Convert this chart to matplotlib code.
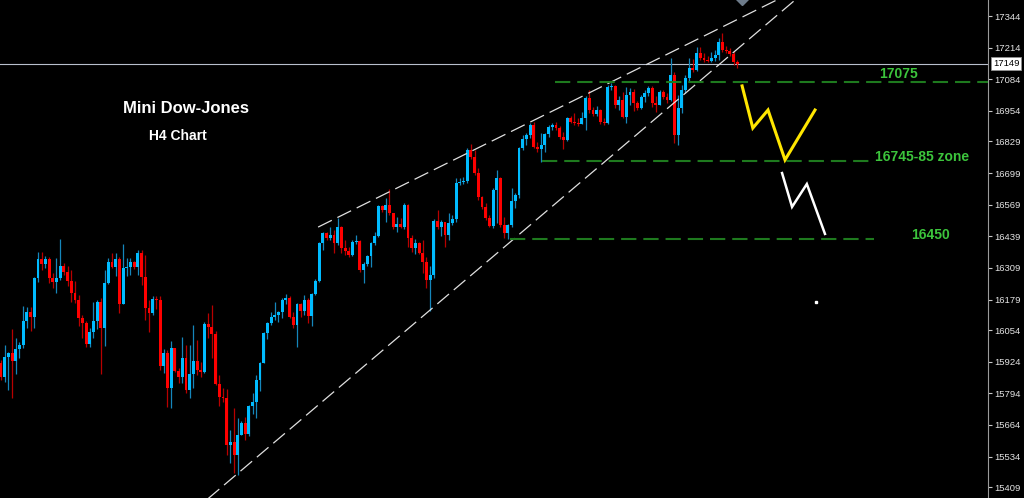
"""
Mini Dow-Jones H4 chart (MT4 style) with rising wedge and projected paths.
"""

import matplotlib
matplotlib.use("Agg")
import matplotlib.pyplot as plt
import numpy as np

plt.rcParams["lines.scale_dashes"] = False
plt.rcParams["font.family"] = ["Liberation Sans", "DejaVu Sans"]

# ── Candle data (H4 bars) ─────────────────────────────────────────────────
first_open = 15919
closes = [
    15861, 15943, 15960, 15927, 15976, 15993, 16091, 16128, 16108, 16268,
    16346, 16325, 16346, 16268, 16252, 16268, 16317, 16293, 16256, 16206,
    16178, 16104, 16083, 15997, 16046, 16091, 16169, 16063, 16247, 16334,
    16313, 16346, 16161, 16309, 16313, 16334, 16313, 16371, 16272, 16145,
    16124, 16182, 16178, 15906, 15960, 15816, 15980, 15886, 15861, 15939,
    15808, 15874, 15927, 15890, 15882, 16079, 16067, 16038, 15833, 15779,
    15775, 15582, 15594, 15541, 15623, 15672, 15627, 15742, 15759, 15849,
    15919, 16042, 16083, 16108, 16116, 16128, 16178, 16186, 16108, 16075,
    16161, 16132, 16178, 16112, 16202, 16256, 16412, 16453, 16432, 16445,
    16412, 16477, 16391, 16379, 16362, 16416, 16420, 16301, 16325, 16358,
    16412, 16441, 16564, 16547, 16568, 16535, 16477, 16490, 16477, 16568,
    16432, 16391, 16412, 16371, 16334, 16260, 16280, 16502, 16477, 16498,
    16445, 16494, 16510, 16658, 16662, 16666, 16794, 16765, 16699, 16601,
    16560, 16514, 16482, 16629, 16679, 16486, 16453, 16486, 16584, 16609,
    16802, 16839, 16855, 16896, 16806, 16798, 16814, 16860, 16888, 16896,
    16884, 16847, 16835, 16925, 16909, 16905, 16901, 16925, 17007, 16958,
    16942, 16958, 16909, 16905, 17053, 17057, 16979, 16999, 16929, 17020,
    17032, 16987, 16966, 17012, 17028, 17048, 16987, 16979, 17032, 17012,
    16999, 17102, 16855, 16966, 17040, 17090, 17131, 17122, 17192, 17172,
    17164, 17160, 17172, 17184, 17237, 17205, 17200, 17188, 17155, 17149,
]
highs = [
    15931, 15993, 15964, 16058, 16021, 16005, 16153, 16149, 16149, 16272,
    16375, 16375, 16358, 16354, 16288, 16350, 16428, 16330, 16317, 16301,
    16256, 16198, 16116, 16091, 16063, 16169, 16178, 16186, 16301, 16350,
    16371, 16371, 16354, 16408, 16350, 16350, 16338, 16383, 16383, 16362,
    16178, 16194, 16194, 16194, 15976, 15972, 16009, 15976, 15898, 16026,
    15993, 15993, 16075, 16013, 15923, 16087, 16124, 16157, 16050, 15870,
    15816, 15812, 15644, 15734, 15693, 15681, 15697, 15746, 15796, 15870,
    15923, 16046, 16087, 16128, 16169, 16132, 16186, 16202, 16194, 16128,
    16165, 16165, 16198, 16186, 16206, 16264, 16416, 16457, 16457, 16477,
    16465, 16514, 16482, 16424, 16395, 16424, 16445, 16424, 16334, 16362,
    16416, 16457, 16568, 16568, 16597, 16634, 16535, 16519, 16514, 16576,
    16572, 16445, 16428, 16416, 16424, 16354, 16317, 16510, 16547, 16506,
    16498, 16535, 16527, 16679, 16679, 16683, 16802, 16818, 16794, 16720,
    16605, 16576, 16527, 16638, 16712, 16683, 16519, 16490, 16638, 16617,
    16806, 16855, 16864, 16905, 16909, 16827, 16864, 16864, 16896, 16905,
    16909, 16892, 16868, 16929, 16933, 16946, 16925, 16950, 17016, 17040,
    16970, 16975, 16962, 16925, 17061, 17069, 17061, 17016, 17032, 17053,
    17048, 17044, 16995, 17020, 17040, 17057, 17057, 17016, 17040, 17040,
    17028, 17172, 17114, 17020, 17061, 17102, 17172, 17168, 17217, 17217,
    17192, 17180, 17196, 17205, 17254, 17274, 17221, 17213, 17200, 17164,
]
lows = [
    15849, 15841, 15808, 15775, 15874, 15939, 15980, 16063, 16050, 16063,
    16252, 16301, 16309, 16247, 16227, 16206, 16260, 16280, 16235, 16169,
    16165, 16071, 16021, 15985, 15985, 16021, 16058, 15874, 15989, 16243,
    16309, 16276, 16124, 16161, 16276, 16280, 16305, 16280, 16239, 16095,
    16046, 16116, 16141, 15890, 15878, 15738, 15734, 15882, 15837, 15837,
    15796, 15775, 15816, 15870, 15861, 15878, 16021, 15939, 15828, 15742,
    15759, 15541, 15508, 15467, 15459, 15627, 15603, 15619, 15709, 15693,
    15804, 15952, 16017, 16075, 16095, 16087, 16104, 16161, 16104, 16063,
    15985, 16108, 16116, 16083, 16071, 16198, 16252, 16383, 16424, 16424,
    16371, 16404, 16371, 16362, 16354, 16358, 16408, 16293, 16247, 16317,
    16313, 16404, 16436, 16539, 16498, 16527, 16469, 16457, 16473, 16469,
    16395, 16375, 16367, 16367, 16288, 16227, 16132, 16268, 16469, 16441,
    16395, 16424, 16486, 16498, 16650, 16654, 16658, 16757, 16691, 16588,
    16551, 16506, 16477, 16473, 16494, 16477, 16432, 16428, 16477, 16556,
    16597, 16794, 16814, 16843, 16802, 16786, 16745, 16786, 16847, 16876,
    16876, 16839, 16798, 16831, 16905, 16896, 16892, 16901, 16876, 16946,
    16933, 16933, 16901, 16896, 16901, 17040, 16966, 16958, 16925, 16905,
    16979, 16954, 16958, 16962, 16991, 17016, 16970, 16950, 16999, 17003,
    16987, 16995, 16823, 16814, 16946, 17028, 17077, 17114, 17118, 17164,
    17155, 17155, 17155, 17160, 17164, 17196, 17192, 17180, 17143, 17131,
]
last_price = 17149

# right-hand price scale
tick_vals = [17344, 17214, 17084, 16954, 16829, 16699, 16569, 16439,
             16309, 16179, 16054, 15924, 15794, 15664, 15534, 15409]

# wedge trendlines: (bar index, price) anchors
upper_wedge_x = [85.7, 215.1]
upper_wedge_p = [16477, 17451]
lower_wedge_x = [54.0, 217.8]
lower_wedge_p = [15336, 17451]

# support levels
level_prices = [17073, 16747, 16428]
level_start = [149.7, 146.2, 137.6]
level_end = [266.8, 234.9, 236.0]
level_labels = ["17075", "16745-85 zone", "16450"]
label_pos = [(0.909, 0.851), (0.933, 0.685), (0.942, 0.528)]

# projected paths
yellow_x = [200.3, 203.2, 207.3, 211.9, 220.0]
yellow_p = [17057, 16884, 16958, 16753, 16958]
white_x = [211.1, 213.8, 217.8, 222.7]
white_p = [16699, 16560, 16654, 16449]

BLUE = "#00BBFF"
RED = "#FF0000"
BLUE_WICK = "#1586bb"
RED_WICK = "#b80000"

fig = plt.figure(figsize=(10.24, 4.98), dpi=100, facecolor="black")
ax = fig.add_axes([0, 0, 988 / 1024, 1])
ax.set_facecolor("black")

idx = np.arange(len(closes))
c = np.array(closes, dtype=float)
o = np.concatenate([[first_open], c[:-1]])
hi = np.maximum(np.array(highs, dtype=float), np.maximum(o, c))
lo = np.minimum(np.array(lows, dtype=float), np.minimum(o, c))
up = c >= o
body = np.maximum(np.abs(c - o), 4)
bottom = np.minimum(o, c)

ax.vlines(idx[up], lo[up], hi[up], color=BLUE_WICK, lw=0.9, zorder=2)
ax.vlines(idx[~up], lo[~up], hi[~up], color=RED_WICK, lw=0.9, zorder=2)
ax.bar(idx[up], body[up], bottom=bottom[up], width=0.8, color=BLUE,
       linewidth=0, zorder=3)
ax.bar(idx[~up], body[~up], bottom=bottom[~up], width=0.8, color=RED,
       linewidth=0, zorder=3)

# current price line
ax.axhline(last_price, color="#b8bfcc", lw=0.8, zorder=1)

# wedge
ax.plot(upper_wedge_x, upper_wedge_p, color="#e0e0e0", lw=0.9,
        linestyle=(0, (11, 4.5)), zorder=4)
ax.plot(lower_wedge_x, lower_wedge_p, color="#e0e0e0", lw=0.9,
        linestyle=(0, (11, 4.5)), zorder=4)

# levels
for p, x0, x1 in zip(level_prices, level_start, level_end):
    ax.plot([x0, x1], [p, p], color="#1e7a1e", lw=1.5,
            linestyle=(0, (11, 5)), zorder=4)
for txt, (tx, ty) in zip(level_labels, label_pos):
    ax.text(tx, ty, txt, transform=ax.transAxes, ha="center", va="center",
            color="#3cc43c", fontsize=10, fontweight="bold")

# projections
ax.plot(yellow_x, yellow_p, color="#FFE600", lw=2.2, zorder=5,
        solid_joinstyle="miter")
ax.plot(white_x, white_p, color="white", lw=1.8, zorder=5,
        solid_joinstyle="miter")
ax.plot([220.3], [16169], marker="s", ms=2, color="white", zorder=5)
ax.plot([200.3], [17418], marker="D", ms=7, color="#6d7b8a", zorder=5)

# titles
ax.text(0.188, 0.783, "Mini Dow-Jones", transform=ax.transAxes, ha="center",
        va="center", color="white", fontsize=12, fontweight="bold")
ax.text(0.180, 0.727, "H4 Chart", transform=ax.transAxes, ha="center",
        va="center", color="white", fontsize=10, fontweight="bold")

ax.set_xlim(-0.27, 266.76)
ax.set_ylim(15364, 17410)

ax.yaxis.tick_right()
ax.set_yticks(tick_vals)
ax.set_yticklabels([str(v) for v in tick_vals])
ax.tick_params(axis="y", colors="#c8c8c8", labelcolor="#e4e4e4",
               labelsize=6.8, length=3, width=0.8, pad=1.5, direction="out")
ax.tick_params(axis="x", bottom=False, labelbottom=False)
for s in ["top", "bottom", "left"]:
    ax.spines[s].set_visible(False)
ax.spines["right"].set_color("#9a9a9a")
ax.spines["right"].set_linewidth(0.8)

ax.annotate(str(last_price), xy=(1.0, last_price),
            xycoords=("axes fraction", "data"), xytext=(3.5, 0),
            textcoords="offset points", ha="left", va="center",
            fontsize=6.8, color="black",
            bbox=dict(boxstyle="square,pad=0.2", fc="white", ec="#909090",
                      lw=0.6))

fig.savefig("out.png", dpi=100, facecolor="black")
